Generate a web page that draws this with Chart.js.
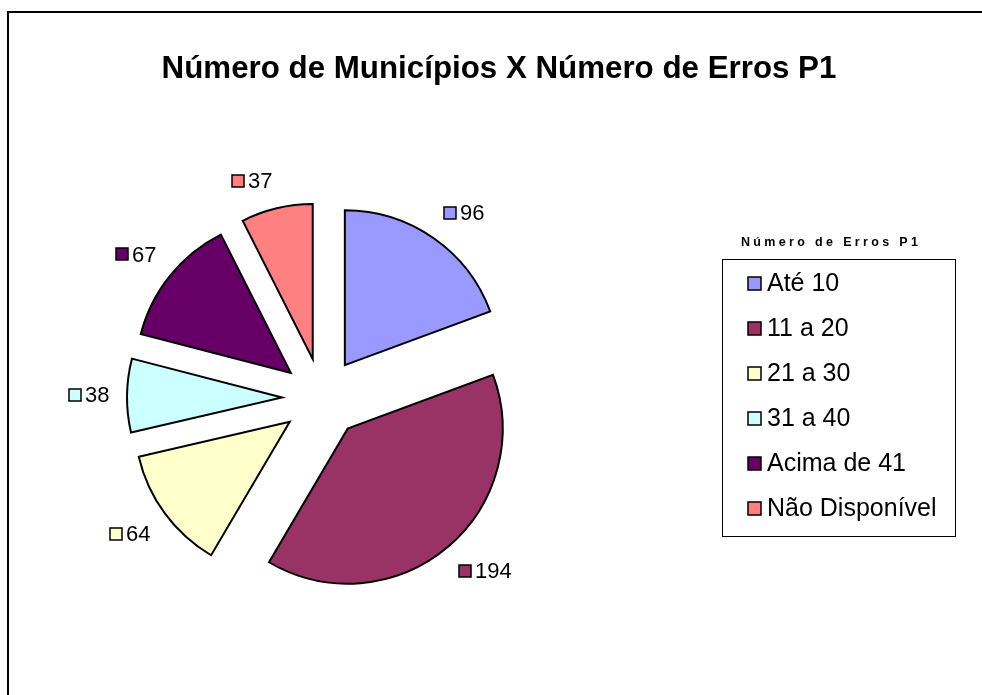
<!DOCTYPE html>
<html>
<head>
<meta charset="utf-8">
<script src="https://cdn.jsdelivr.net/npm/chart.js@4.4.1/dist/chart.umd.min.js"></script>
<style>
  html, body { margin: 0; padding: 0; background: #ffffff; }
  #wrap { position: relative; width: 982px; height: 695px; }
</style>
</head>
<body>
<div id="wrap"><canvas id="c" width="982" height="695"></canvas></div>
<script>
// Municípios agrupados pelo número de erros na prova P1
const categories = ['Até 10', '11 a 20', '21 a 30', '31 a 40', 'Acima de 41', 'Não Disponível'];
const municipios = [96, 194, 64, 38, 67, 37];
const sliceColors = ['#9999FF', '#993366', '#FFFFCC', '#CCFFFF', '#660066', '#FF8080'];
const chartTitle = 'Número de Municípios X Número de Erros P1';
const legendTitle = 'Número de Erros P1';

const FONT = '"Liberation Sans", Arial, Helvetica, sans-serif';
const EXPLODE = 40;       // distance each slice is pulled out from the centre
const LABEL_GAP = 58;     // nearest corner of each value label sits this far outside the pie

const clamp1 = v => Math.max(-1, Math.min(1, v));

// Outer frame (top and left edges of the chart area)
const framePlugin = {
  id: 'frame',
  beforeDraw(chart) {
    const ctx = chart.ctx;
    ctx.save();
    ctx.fillStyle = '#ffffff';
    ctx.fillRect(0, 0, chart.width, chart.height);
    ctx.strokeStyle = '#000000';
    ctx.lineWidth = 2;
    ctx.beginPath();
    ctx.moveTo(8, chart.height);
    ctx.lineTo(8, 12);
    ctx.lineTo(chart.width, 12);
    ctx.stroke();
    ctx.restore();
  }
};

// Draw every slice pulled out along its own mid-angle (exploded pie)
const explodePlugin = {
  id: 'explode',
  beforeDatasetDraw(chart, args) {
    const ctx = chart.ctx;
    args.meta.data.forEach(arc => {
      const mid = (arc.startAngle + arc.endAngle) / 2;
      ctx.save();
      ctx.translate(Math.cos(mid) * EXPLODE, Math.sin(mid) * EXPLODE);
      arc.draw(ctx);
      ctx.restore();
    });
    return false;
  }
};

// Title, value labels with colour keys, and the boxed legend
const decorPlugin = {
  id: 'decor',
  afterDraw(chart) {
    const ctx = chart.ctx;
    const meta = chart.getDatasetMeta(0);
    const values = chart.data.datasets[0].data;
    ctx.save();

    // Title
    ctx.fillStyle = '#000000';
    ctx.font = 'bold 31.3px ' + FONT;
    ctx.textAlign = 'center';
    ctx.textBaseline = 'alphabetic';
    ctx.fillText(chartTitle, 499, 78);

    // Value labels: colour key + number, pushed outward from the slice's mid-angle
    ctx.font = '22px ' + FONT;
    ctx.textAlign = 'left';
    ctx.textBaseline = 'middle';
    meta.data.forEach((arc, i) => {
      const mid = (arc.startAngle + arc.endAngle) / 2;
      const ux = Math.cos(mid), uy = Math.sin(mid);
      const r = arc.outerRadius + LABEL_GAP;
      const ax = arc.x + ux * r;
      const ay = arc.y + uy * r;
      const txt = String(values[i]);
      const box = 12, gap = 4, h = 20;
      const w = box + gap + ctx.measureText(txt).width;
      const cx = ax + (w / 2) * clamp1(ux / 0.2);
      const cy = ay + (h / 2) * clamp1(uy / 0.2);
      const x0 = Math.round(cx - w / 2);
      const y0 = Math.round(cy - box / 2);
      ctx.fillStyle = sliceColors[i];
      ctx.fillRect(x0, y0, box, box);
      ctx.strokeStyle = '#000000';
      ctx.lineWidth = 1.5;
      ctx.strokeRect(x0, y0, box, box);
      ctx.fillStyle = '#000000';
      ctx.fillText(txt, x0 + box + gap, cy + 1);
    });

    // Legend heading (spaced-out bold letters)
    ctx.font = 'bold 12.5px ' + FONT;
    ctx.textBaseline = 'alphabetic';
    const chars = Array.from(legendTitle);
    let plain = 0;
    chars.forEach(ch => { plain += ctx.measureText(ch).width; });
    const headingWidth = 177;
    const spacing = (headingWidth - plain) / (chars.length - 1);
    let x = 829.5 - headingWidth / 2;
    chars.forEach(ch => {
      ctx.fillText(ch, x, 246);
      x += ctx.measureText(ch).width + spacing;
    });

    // Legend box
    ctx.strokeStyle = '#000000';
    ctx.lineWidth = 1;
    ctx.strokeRect(722.5, 259.5, 233, 277);
    ctx.font = '25px ' + FONT;
    ctx.textBaseline = 'middle';
    categories.forEach((label, i) => {
      const cy = 283 + 45 * i;
      ctx.fillStyle = sliceColors[i];
      ctx.fillRect(748, cy - 6, 13, 13);
      ctx.strokeStyle = '#000000';
      ctx.lineWidth = 1.5;
      ctx.strokeRect(748, cy - 6, 13, 13);
      ctx.fillStyle = '#000000';
      ctx.fillText(label, 767, cy + 1);
    });

    ctx.restore();
  }
};

new Chart(document.getElementById('c'), {
  type: 'pie',
  data: {
    labels: categories,
    datasets: [{
      data: municipios,
      backgroundColor: sliceColors,
      borderColor: '#000000',
      borderWidth: 2,
      borderJoinStyle: 'miter',
      radius: 155
    }]
  },
  options: {
    responsive: false,
    animation: false,
    events: [],
    layout: { padding: { top: 101, left: 0, right: 338, bottom: 0 } },
    plugins: {
      legend: { display: false },
      title: { display: false },
      tooltip: { enabled: false }
    }
  },
  plugins: [framePlugin, explodePlugin, decorPlugin]
});
</script>
</body>
</html>
